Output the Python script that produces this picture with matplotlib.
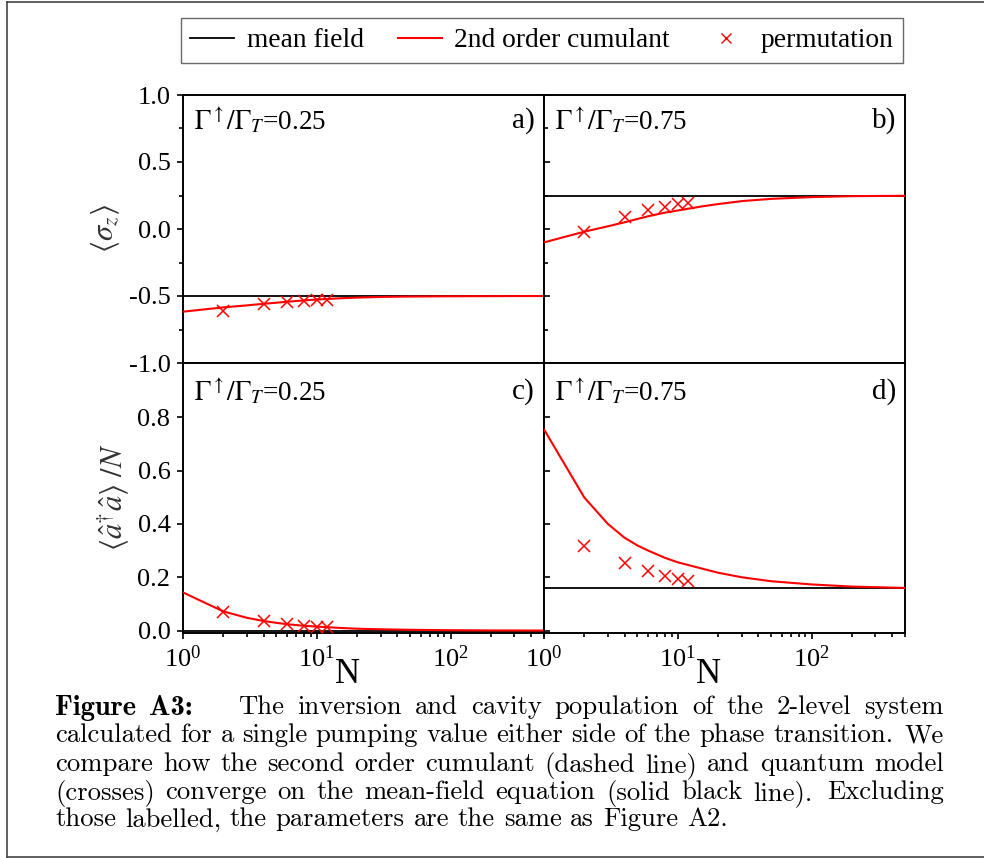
import numpy as np
import matplotlib
matplotlib.use("Agg")
import matplotlib.pyplot as plt
from matplotlib.lines import Line2D
from matplotlib.ticker import LogLocator, LogFormatterSciNotation, NullFormatter, MultipleLocator

# ---- data ----
N_line = [1, 2, 3, 4, 5, 6, 8, 10, 15, 20, 30, 50, 100, 200, 500]
N_perm = [2, 4, 6, 8, 10, 12]

sz_mf_low = -0.5
sz_cum_low = [-0.617, -0.585, -0.57, -0.558, -0.55, -0.543, -0.533, -0.526,
              -0.517, -0.512, -0.507, -0.504, -0.502, -0.501, -0.5]
sz_perm_low = [-0.61, -0.562, -0.547, -0.535, -0.53, -0.527]

sz_mf_high = 0.25
sz_cum_high = [-0.10, -0.02, 0.02, 0.05, 0.075, 0.095, 0.122, 0.138,
               0.168, 0.186, 0.208, 0.225, 0.238, 0.245, 0.248]
sz_perm_high = [-0.02, 0.09, 0.14, 0.165, 0.185, 0.195]

n_mf_low = 0.0
n_cum_low = [0.143, 0.072, 0.048, 0.036, 0.029, 0.024, 0.018, 0.015,
             0.010, 0.007, 0.005, 0.003, 0.0015, 0.0007, 0.0003]
n_perm_low = [0.069, 0.036, 0.024, 0.019, 0.015, 0.014]

n_mf_high = 0.158
n_cum_high = [0.754, 0.499, 0.40, 0.348, 0.319, 0.30, 0.273, 0.256,
              0.233, 0.217, 0.200, 0.185, 0.173, 0.165, 0.160]
n_perm_high = [0.318, 0.253, 0.223, 0.206, 0.193, 0.187]

pump_labels = ["0.25", "0.75"]
panel_tags = ["a)", "b)", "c)", "d)"]

caption_lines = [
    "Figure A3: The inversion and cavity population of the 2-level system",
    "calculated for a single pumping value either side of the phase transition. We",
    "compare how the second order cumulant (dashed line) and quantum model",
    "(crosses) converge on the mean-field equation (solid black line). Excluding",
    "those labelled, the parameters are the same as Figure A2.",
]

# ---- style ----
plt.rcParams['font.family'] = ['Liberation Serif', 'DejaVu Serif']
plt.rcParams['mathtext.fontset'] = 'stix'
plt.rcParams['axes.unicode_minus'] = False
plt.rcParams['axes.linewidth'] = 1.4

W, H = 984, 858
fig = plt.figure(figsize=(W / 100, H / 100), dpi=100)

def px_box(x0, y0, x1, y1):
    return [x0 / W, 1 - y1 / H, (x1 - x0) / W, (y1 - y0) / H]

ax_a = fig.add_axes(px_box(183, 95, 544, 363))
ax_b = fig.add_axes(px_box(544, 95, 905, 363))
ax_c = fig.add_axes(px_box(183, 363, 544, 633))
ax_d = fig.add_axes(px_box(544, 363, 905, 633))

red = '#ff0000'
panels = [
    (ax_a, sz_mf_low, sz_cum_low, sz_perm_low, pump_labels[0]),
    (ax_b, sz_mf_high, sz_cum_high, sz_perm_high, pump_labels[1]),
    (ax_c, n_mf_low, n_cum_low, n_perm_low, pump_labels[0]),
    (ax_d, n_mf_high, n_cum_high, n_perm_high, pump_labels[1]),
]

for i, (ax, mf, cum, perm, pl) in enumerate(panels):
    ax.axhline(mf, color='black', lw=1.3, zorder=2)
    ax.plot(N_line, cum, color=red, lw=1.5, zorder=3)
    ax.plot(N_perm, perm, 'x', color=red, ms=8, mew=1.1, zorder=4)
    ax.set_xscale('log')
    ax.set_xlim(1, 500)
    ax.xaxis.set_major_locator(LogLocator(base=10))
    ax.xaxis.set_minor_locator(LogLocator(base=10, subs=np.arange(2, 10)))
    ax.xaxis.set_minor_formatter(NullFormatter())
    ax.tick_params(axis='both', which='both', direction='out', top=False, right=False,
                   labelsize=19, width=1.2, pad=5)
    ax.tick_params(which='major', length=4)
    ax.tick_params(which='minor', length=3)
    ty = 0.905 if i < 2 else 0.895
    ax.text(0.03, ty, r'$\Gamma^{\uparrow}/\Gamma_{T}$' + '=' + pl,
            transform=ax.transAxes, fontsize=19.5, ha='left', va='center')
    ax.text(0.975, ty, panel_tags[i],
            transform=ax.transAxes, fontsize=21, ha='right', va='center')

for ax in (ax_a, ax_b):
    ax.set_ylim(-1, 1)
    ax.yaxis.set_major_locator(MultipleLocator(0.5))
    ax.yaxis.set_minor_locator(MultipleLocator(0.25))
    ax.tick_params(axis='x', labelbottom=False)
ax_a.set_yticks([-1.0, -0.5, 0.0, 0.5, 1.0])
ax_a.set_yticklabels(['-1.0', '-0.5', '0.0', '0.5', '1.0'])

for ax in (ax_c, ax_d):
    ax.set_ylim(-0.009, 1.003)
    ax.set_yticks([0.0, 0.2, 0.4, 0.6, 0.8])
    ax.xaxis.set_major_formatter(LogFormatterSciNotation())
    ax.text(0.455, -0.152, 'N', transform=ax.transAxes, fontsize=25,
            ha='center', va='center')
ax_c.set_yticklabels(['0.0', '0.2', '0.4', '0.6', '0.8'])

for ax in (ax_b, ax_d):
    ax.tick_params(axis='y', which='both', direction='in', labelleft=False)

fig.text(106 / W, 1 - 229 / H, r'$\langle\sigma_z\rangle$', rotation=90,
         fontsize=22, ha='center', va='center', color='#333333')
fig.text(113 / W, 1 - 497 / H, r'$\langle\hat{a}^{\dagger}\hat{a}\rangle\ /N$', rotation=90,
         fontsize=22, ha='center', va='center', color='#333333')

# ---- legend ----
handles = [
    Line2D([], [], color='black', lw=1.3),
    Line2D([], [], color=red, lw=1.5),
    Line2D([], [], color=red, marker='x', ls='none', ms=7, mew=1.0),
]
leg = fig.legend(handles, ['mean field', '2nd order cumulant', 'permutation'],
                 loc='center', bbox_to_anchor=(542 / W, 1 - 40.5 / H), ncol=3,
                 fontsize=19.8, frameon=True, fancybox=False, edgecolor='#444444',
                 handlelength=1.6, handletextpad=0.45, columnspacing=1.25,
                 borderpad=0.35)
leg.get_frame().set_linewidth(1.0)

# ---- outer frame (right side cut off in the reference) ----
fc = '#444444'
fig.add_artist(Line2D([6.5 / W, 6.5 / W], [1 - 1.5 / H, 1 - 856.5 / H], color=fc, lw=1.2,
                      transform=fig.transFigure))
fig.add_artist(Line2D([6.5 / W, 1.0], [1 - 1.5 / H, 1 - 1.5 / H], color=fc, lw=1.2,
                      transform=fig.transFigure))
fig.add_artist(Line2D([6.5 / W, 1.0], [1 - 856.5 / H, 1 - 856.5 / H], color=fc, lw=1.2,
                      transform=fig.transFigure))

# ---- caption, justified ----
cap_fs = 19.2
cap_x0, cap_x1 = 55, 944
cap_y = [705, 733, 762, 790, 817]
renderer = fig.canvas.get_renderer()
for li, line in enumerate(caption_lines):
    words = line.split(' ')
    texts = []
    for wi, w in enumerate(words):
        bold = (li == 0 and wi < 2)
        t = fig.text(0, 1 - cap_y[li] / H, w, fontsize=20.5 if bold else cap_fs,
                     family='cmb10' if bold else 'cmr10',
                     ha='left', va='center_baseline')
        texts.append(t)
    widths = [t.get_window_extent(renderer).width for t in texts]
    gap_w = []
    for wi in range(len(words) - 1):
        if li == 0 and wi == 1:
            gap_w.append(3.5)
        elif words[wi].endswith('.'):
            gap_w.append(1.4)
        else:
            gap_w.append(1.0)
    if li < len(caption_lines) - 1:
        unit = (cap_x1 - cap_x0 - sum(widths)) / sum(gap_w)
    else:
        unit = 0.33 * cap_fs * 100 / 72
    x = cap_x0
    for wi, t in enumerate(texts):
        t.set_x(x / W)
        x += widths[wi]
        if wi < len(gap_w):
            x += unit * gap_w[wi]

fig.savefig('out.png', dpi=100)
